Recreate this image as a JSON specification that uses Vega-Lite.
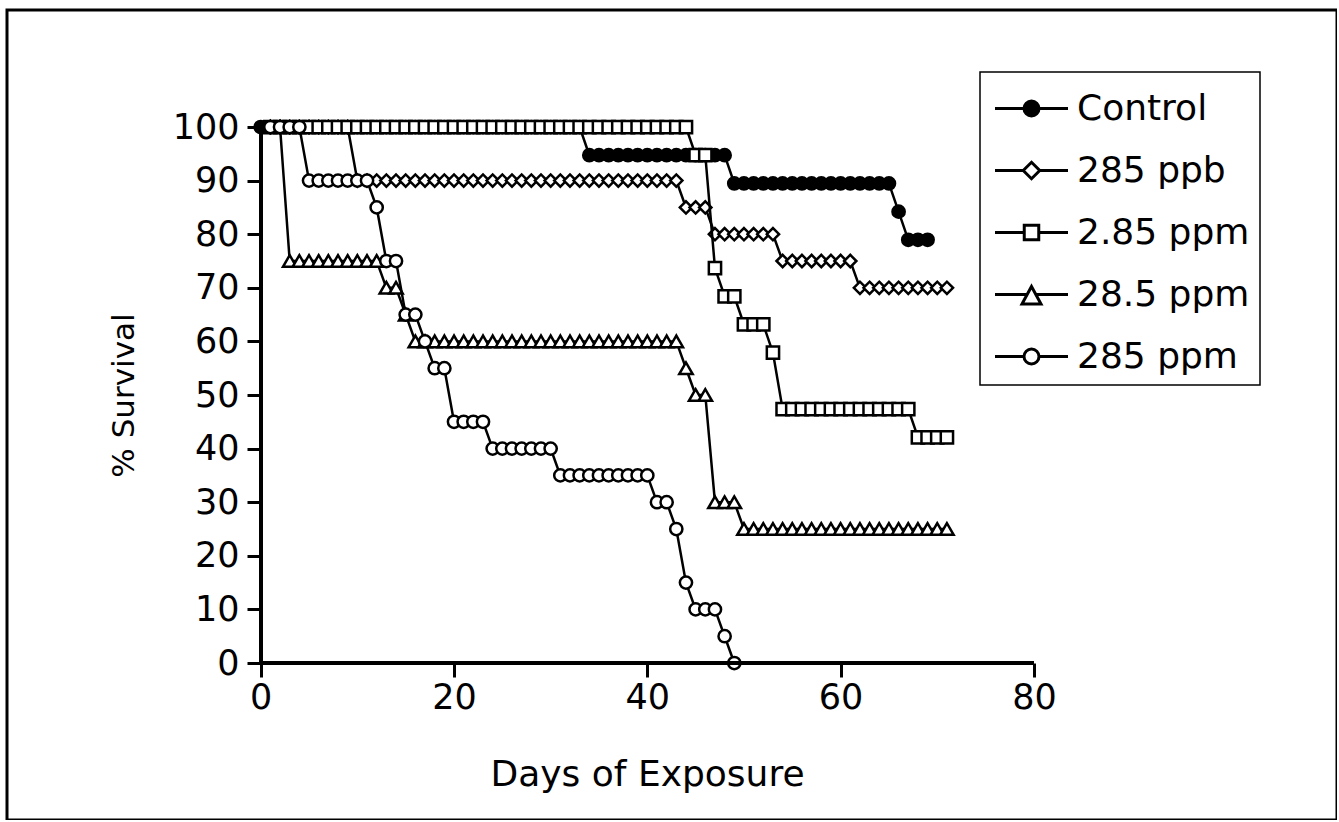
{
"$schema": "https://vega.github.io/schema/vega-lite/v6.json",
"width": 1330, "height": 810,
"padding": {"left": 7, "top": 10, "right": 0, "bottom": 0},
"background": "white",
"data": {"values": [
{"series":"Control","day":0,"survival":100},{"series":"Control","day":1,"survival":100},{"series":"Control","day":2,"survival":100},{"series":"Control","day":3,"survival":100},{"series":"Control","day":4,"survival":100},{"series":"Control","day":5,"survival":100},{"series":"Control","day":6,"survival":100},{"series":"Control","day":7,"survival":100},{"series":"Control","day":8,"survival":100},{"series":"Control","day":9,"survival":100},{"series":"Control","day":10,"survival":100},{"series":"Control","day":11,"survival":100},{"series":"Control","day":12,"survival":100},{"series":"Control","day":13,"survival":100},{"series":"Control","day":14,"survival":100},{"series":"Control","day":15,"survival":100},{"series":"Control","day":16,"survival":100},{"series":"Control","day":17,"survival":100},{"series":"Control","day":18,"survival":100},{"series":"Control","day":19,"survival":100},{"series":"Control","day":20,"survival":100},{"series":"Control","day":21,"survival":100},{"series":"Control","day":22,"survival":100},{"series":"Control","day":23,"survival":100},{"series":"Control","day":24,"survival":100},{"series":"Control","day":25,"survival":100},{"series":"Control","day":26,"survival":100},{"series":"Control","day":27,"survival":100},{"series":"Control","day":28,"survival":100},{"series":"Control","day":29,"survival":100},{"series":"Control","day":30,"survival":100},{"series":"Control","day":31,"survival":100},{"series":"Control","day":32,"survival":100},{"series":"Control","day":33,"survival":100},
{"series":"Control","day":34,"survival":94.74},{"series":"Control","day":35,"survival":94.74},{"series":"Control","day":36,"survival":94.74},{"series":"Control","day":37,"survival":94.74},{"series":"Control","day":38,"survival":94.74},{"series":"Control","day":39,"survival":94.74},{"series":"Control","day":40,"survival":94.74},{"series":"Control","day":41,"survival":94.74},{"series":"Control","day":42,"survival":94.74},{"series":"Control","day":43,"survival":94.74},{"series":"Control","day":44,"survival":94.74},{"series":"Control","day":45,"survival":94.74},{"series":"Control","day":46,"survival":94.74},{"series":"Control","day":47,"survival":94.74},{"series":"Control","day":48,"survival":94.74},
{"series":"Control","day":49,"survival":89.47},{"series":"Control","day":50,"survival":89.47},{"series":"Control","day":51,"survival":89.47},{"series":"Control","day":52,"survival":89.47},{"series":"Control","day":53,"survival":89.47},{"series":"Control","day":54,"survival":89.47},{"series":"Control","day":55,"survival":89.47},{"series":"Control","day":56,"survival":89.47},{"series":"Control","day":57,"survival":89.47},{"series":"Control","day":58,"survival":89.47},{"series":"Control","day":59,"survival":89.47},{"series":"Control","day":60,"survival":89.47},{"series":"Control","day":61,"survival":89.47},{"series":"Control","day":62,"survival":89.47},{"series":"Control","day":63,"survival":89.47},{"series":"Control","day":64,"survival":89.47},{"series":"Control","day":65,"survival":89.47},
{"series":"Control","day":66,"survival":84.21},{"series":"Control","day":67,"survival":78.95},{"series":"Control","day":68,"survival":78.95},{"series":"Control","day":69,"survival":78.95},
{"series":"285 ppb","day":1,"survival":100},{"series":"285 ppb","day":2,"survival":100},{"series":"285 ppb","day":3,"survival":100},{"series":"285 ppb","day":4,"survival":100},{"series":"285 ppb","day":5,"survival":100},{"series":"285 ppb","day":6,"survival":100},{"series":"285 ppb","day":7,"survival":100},{"series":"285 ppb","day":8,"survival":100},{"series":"285 ppb","day":9,"survival":100},
{"series":"285 ppb","day":10,"survival":90},{"series":"285 ppb","day":11,"survival":90},{"series":"285 ppb","day":12,"survival":90},{"series":"285 ppb","day":13,"survival":90},{"series":"285 ppb","day":14,"survival":90},{"series":"285 ppb","day":15,"survival":90},{"series":"285 ppb","day":16,"survival":90},{"series":"285 ppb","day":17,"survival":90},{"series":"285 ppb","day":18,"survival":90},{"series":"285 ppb","day":19,"survival":90},{"series":"285 ppb","day":20,"survival":90},{"series":"285 ppb","day":21,"survival":90},{"series":"285 ppb","day":22,"survival":90},{"series":"285 ppb","day":23,"survival":90},{"series":"285 ppb","day":24,"survival":90},{"series":"285 ppb","day":25,"survival":90},{"series":"285 ppb","day":26,"survival":90},{"series":"285 ppb","day":27,"survival":90},{"series":"285 ppb","day":28,"survival":90},{"series":"285 ppb","day":29,"survival":90},{"series":"285 ppb","day":30,"survival":90},{"series":"285 ppb","day":31,"survival":90},{"series":"285 ppb","day":32,"survival":90},{"series":"285 ppb","day":33,"survival":90},{"series":"285 ppb","day":34,"survival":90},{"series":"285 ppb","day":35,"survival":90},{"series":"285 ppb","day":36,"survival":90},{"series":"285 ppb","day":37,"survival":90},{"series":"285 ppb","day":38,"survival":90},{"series":"285 ppb","day":39,"survival":90},{"series":"285 ppb","day":40,"survival":90},{"series":"285 ppb","day":41,"survival":90},{"series":"285 ppb","day":42,"survival":90},{"series":"285 ppb","day":43,"survival":90},
{"series":"285 ppb","day":44,"survival":85},{"series":"285 ppb","day":45,"survival":85},{"series":"285 ppb","day":46,"survival":85},
{"series":"285 ppb","day":47,"survival":80},{"series":"285 ppb","day":48,"survival":80},{"series":"285 ppb","day":49,"survival":80},{"series":"285 ppb","day":50,"survival":80},{"series":"285 ppb","day":51,"survival":80},{"series":"285 ppb","day":52,"survival":80},{"series":"285 ppb","day":53,"survival":80},
{"series":"285 ppb","day":54,"survival":75},{"series":"285 ppb","day":55,"survival":75},{"series":"285 ppb","day":56,"survival":75},{"series":"285 ppb","day":57,"survival":75},{"series":"285 ppb","day":58,"survival":75},{"series":"285 ppb","day":59,"survival":75},{"series":"285 ppb","day":60,"survival":75},{"series":"285 ppb","day":61,"survival":75},
{"series":"285 ppb","day":62,"survival":70},{"series":"285 ppb","day":63,"survival":70},{"series":"285 ppb","day":64,"survival":70},{"series":"285 ppb","day":65,"survival":70},{"series":"285 ppb","day":66,"survival":70},{"series":"285 ppb","day":67,"survival":70},{"series":"285 ppb","day":68,"survival":70},{"series":"285 ppb","day":69,"survival":70},{"series":"285 ppb","day":70,"survival":70},{"series":"285 ppb","day":71,"survival":70},
{"series":"2.85 ppm","day":1,"survival":100},{"series":"2.85 ppm","day":2,"survival":100},{"series":"2.85 ppm","day":3,"survival":100},{"series":"2.85 ppm","day":4,"survival":100},{"series":"2.85 ppm","day":5,"survival":100},{"series":"2.85 ppm","day":6,"survival":100},{"series":"2.85 ppm","day":7,"survival":100},{"series":"2.85 ppm","day":8,"survival":100},{"series":"2.85 ppm","day":9,"survival":100},{"series":"2.85 ppm","day":10,"survival":100},{"series":"2.85 ppm","day":11,"survival":100},{"series":"2.85 ppm","day":12,"survival":100},{"series":"2.85 ppm","day":13,"survival":100},{"series":"2.85 ppm","day":14,"survival":100},{"series":"2.85 ppm","day":15,"survival":100},{"series":"2.85 ppm","day":16,"survival":100},{"series":"2.85 ppm","day":17,"survival":100},{"series":"2.85 ppm","day":18,"survival":100},{"series":"2.85 ppm","day":19,"survival":100},{"series":"2.85 ppm","day":20,"survival":100},{"series":"2.85 ppm","day":21,"survival":100},{"series":"2.85 ppm","day":22,"survival":100},{"series":"2.85 ppm","day":23,"survival":100},{"series":"2.85 ppm","day":24,"survival":100},{"series":"2.85 ppm","day":25,"survival":100},{"series":"2.85 ppm","day":26,"survival":100},{"series":"2.85 ppm","day":27,"survival":100},{"series":"2.85 ppm","day":28,"survival":100},{"series":"2.85 ppm","day":29,"survival":100},{"series":"2.85 ppm","day":30,"survival":100},{"series":"2.85 ppm","day":31,"survival":100},{"series":"2.85 ppm","day":32,"survival":100},{"series":"2.85 ppm","day":33,"survival":100},{"series":"2.85 ppm","day":34,"survival":100},{"series":"2.85 ppm","day":35,"survival":100},{"series":"2.85 ppm","day":36,"survival":100},{"series":"2.85 ppm","day":37,"survival":100},{"series":"2.85 ppm","day":38,"survival":100},{"series":"2.85 ppm","day":39,"survival":100},{"series":"2.85 ppm","day":40,"survival":100},{"series":"2.85 ppm","day":41,"survival":100},{"series":"2.85 ppm","day":42,"survival":100},{"series":"2.85 ppm","day":43,"survival":100},{"series":"2.85 ppm","day":44,"survival":100},
{"series":"2.85 ppm","day":45,"survival":94.74},{"series":"2.85 ppm","day":46,"survival":94.74},{"series":"2.85 ppm","day":47,"survival":73.68},{"series":"2.85 ppm","day":48,"survival":68.42},{"series":"2.85 ppm","day":49,"survival":68.42},{"series":"2.85 ppm","day":50,"survival":63.16},{"series":"2.85 ppm","day":51,"survival":63.16},{"series":"2.85 ppm","day":52,"survival":63.16},{"series":"2.85 ppm","day":53,"survival":57.89},
{"series":"2.85 ppm","day":54,"survival":47.37},{"series":"2.85 ppm","day":55,"survival":47.37},{"series":"2.85 ppm","day":56,"survival":47.37},{"series":"2.85 ppm","day":57,"survival":47.37},{"series":"2.85 ppm","day":58,"survival":47.37},{"series":"2.85 ppm","day":59,"survival":47.37},{"series":"2.85 ppm","day":60,"survival":47.37},{"series":"2.85 ppm","day":61,"survival":47.37},{"series":"2.85 ppm","day":62,"survival":47.37},{"series":"2.85 ppm","day":63,"survival":47.37},{"series":"2.85 ppm","day":64,"survival":47.37},{"series":"2.85 ppm","day":65,"survival":47.37},{"series":"2.85 ppm","day":66,"survival":47.37},{"series":"2.85 ppm","day":67,"survival":47.37},
{"series":"2.85 ppm","day":68,"survival":42.11},{"series":"2.85 ppm","day":69,"survival":42.11},{"series":"2.85 ppm","day":70,"survival":42.11},{"series":"2.85 ppm","day":71,"survival":42.11},
{"series":"28.5 ppm","day":1,"survival":100},{"series":"28.5 ppm","day":2,"survival":100},
{"series":"28.5 ppm","day":3,"survival":75},{"series":"28.5 ppm","day":4,"survival":75},{"series":"28.5 ppm","day":5,"survival":75},{"series":"28.5 ppm","day":6,"survival":75},{"series":"28.5 ppm","day":7,"survival":75},{"series":"28.5 ppm","day":8,"survival":75},{"series":"28.5 ppm","day":9,"survival":75},{"series":"28.5 ppm","day":10,"survival":75},{"series":"28.5 ppm","day":11,"survival":75},{"series":"28.5 ppm","day":12,"survival":75},
{"series":"28.5 ppm","day":13,"survival":70},{"series":"28.5 ppm","day":14,"survival":70},{"series":"28.5 ppm","day":15,"survival":65},
{"series":"28.5 ppm","day":16,"survival":60},{"series":"28.5 ppm","day":17,"survival":60},{"series":"28.5 ppm","day":18,"survival":60},{"series":"28.5 ppm","day":19,"survival":60},{"series":"28.5 ppm","day":20,"survival":60},{"series":"28.5 ppm","day":21,"survival":60},{"series":"28.5 ppm","day":22,"survival":60},{"series":"28.5 ppm","day":23,"survival":60},{"series":"28.5 ppm","day":24,"survival":60},{"series":"28.5 ppm","day":25,"survival":60},{"series":"28.5 ppm","day":26,"survival":60},{"series":"28.5 ppm","day":27,"survival":60},{"series":"28.5 ppm","day":28,"survival":60},{"series":"28.5 ppm","day":29,"survival":60},{"series":"28.5 ppm","day":30,"survival":60},{"series":"28.5 ppm","day":31,"survival":60},{"series":"28.5 ppm","day":32,"survival":60},{"series":"28.5 ppm","day":33,"survival":60},{"series":"28.5 ppm","day":34,"survival":60},{"series":"28.5 ppm","day":35,"survival":60},{"series":"28.5 ppm","day":36,"survival":60},{"series":"28.5 ppm","day":37,"survival":60},{"series":"28.5 ppm","day":38,"survival":60},{"series":"28.5 ppm","day":39,"survival":60},{"series":"28.5 ppm","day":40,"survival":60},{"series":"28.5 ppm","day":41,"survival":60},{"series":"28.5 ppm","day":42,"survival":60},{"series":"28.5 ppm","day":43,"survival":60},
{"series":"28.5 ppm","day":44,"survival":55},{"series":"28.5 ppm","day":45,"survival":50},{"series":"28.5 ppm","day":46,"survival":50},{"series":"28.5 ppm","day":47,"survival":30},{"series":"28.5 ppm","day":48,"survival":30},{"series":"28.5 ppm","day":49,"survival":30},
{"series":"28.5 ppm","day":50,"survival":25},{"series":"28.5 ppm","day":51,"survival":25},{"series":"28.5 ppm","day":52,"survival":25},{"series":"28.5 ppm","day":53,"survival":25},{"series":"28.5 ppm","day":54,"survival":25},{"series":"28.5 ppm","day":55,"survival":25},{"series":"28.5 ppm","day":56,"survival":25},{"series":"28.5 ppm","day":57,"survival":25},{"series":"28.5 ppm","day":58,"survival":25},{"series":"28.5 ppm","day":59,"survival":25},{"series":"28.5 ppm","day":60,"survival":25},{"series":"28.5 ppm","day":61,"survival":25},{"series":"28.5 ppm","day":62,"survival":25},{"series":"28.5 ppm","day":63,"survival":25},{"series":"28.5 ppm","day":64,"survival":25},{"series":"28.5 ppm","day":65,"survival":25},{"series":"28.5 ppm","day":66,"survival":25},{"series":"28.5 ppm","day":67,"survival":25},{"series":"28.5 ppm","day":68,"survival":25},{"series":"28.5 ppm","day":69,"survival":25},{"series":"28.5 ppm","day":70,"survival":25},{"series":"28.5 ppm","day":71,"survival":25},
{"series":"285 ppm","day":1,"survival":100},{"series":"285 ppm","day":2,"survival":100},{"series":"285 ppm","day":3,"survival":100},{"series":"285 ppm","day":4,"survival":100},
{"series":"285 ppm","day":5,"survival":90},{"series":"285 ppm","day":6,"survival":90},{"series":"285 ppm","day":7,"survival":90},{"series":"285 ppm","day":8,"survival":90},{"series":"285 ppm","day":9,"survival":90},{"series":"285 ppm","day":10,"survival":90},{"series":"285 ppm","day":11,"survival":90},
{"series":"285 ppm","day":12,"survival":85},{"series":"285 ppm","day":13,"survival":75},{"series":"285 ppm","day":14,"survival":75},{"series":"285 ppm","day":15,"survival":65},{"series":"285 ppm","day":16,"survival":65},{"series":"285 ppm","day":17,"survival":60},{"series":"285 ppm","day":18,"survival":55},{"series":"285 ppm","day":19,"survival":55},
{"series":"285 ppm","day":20,"survival":45},{"series":"285 ppm","day":21,"survival":45},{"series":"285 ppm","day":22,"survival":45},{"series":"285 ppm","day":23,"survival":45},
{"series":"285 ppm","day":24,"survival":40},{"series":"285 ppm","day":25,"survival":40},{"series":"285 ppm","day":26,"survival":40},{"series":"285 ppm","day":27,"survival":40},{"series":"285 ppm","day":28,"survival":40},{"series":"285 ppm","day":29,"survival":40},{"series":"285 ppm","day":30,"survival":40},
{"series":"285 ppm","day":31,"survival":35},{"series":"285 ppm","day":32,"survival":35},{"series":"285 ppm","day":33,"survival":35},{"series":"285 ppm","day":34,"survival":35},{"series":"285 ppm","day":35,"survival":35},{"series":"285 ppm","day":36,"survival":35},{"series":"285 ppm","day":37,"survival":35},{"series":"285 ppm","day":38,"survival":35},{"series":"285 ppm","day":39,"survival":35},{"series":"285 ppm","day":40,"survival":35},
{"series":"285 ppm","day":41,"survival":30},{"series":"285 ppm","day":42,"survival":30},{"series":"285 ppm","day":43,"survival":25},{"series":"285 ppm","day":44,"survival":15},{"series":"285 ppm","day":45,"survival":10},{"series":"285 ppm","day":46,"survival":10},{"series":"285 ppm","day":47,"survival":10},{"series":"285 ppm","day":48,"survival":5},{"series":"285 ppm","day":49,"survival":0}
]},
"layer": [
{"transform": [{"filter": "datum.series === 'Control'"}],
 "mark": {"type": "line", "stroke": "black", "strokeWidth": 2.5},
 "encoding": {
  "x": {"field": "day", "type": "quantitative", "scale": {"domain": [-26.25, 111.36], "nice": false, "zero": false},
        "axis": {"title": "Days of Exposure", "values": [0, 20, 40, 60, 80], "offset": -157, "labelPadding": 3, "titleX": 640, "titleY": 122, "titleBaseline": "alphabetic", "titleFontSize": 36}},
  "y": {"field": "survival", "type": "quantitative", "scale": {"domain": [-29.29, 121.83], "nice": false, "zero": false},
        "axis": {"title": "% Survival", "values": [0, 10, 20, 30, 40, 50, 60, 70, 80, 90, 100], "offset": -254, "labelPadding": 8, "titleX": -128, "titleY": 385, "titleAngle": -90, "titleBaseline": "alphabetic", "titleAlign": "center", "titleFontSize": 31}}
 }},
{"transform": [{"filter": "datum.series === 'Control'"}],
 "mark": {"type": "point", "shape": "circle", "filled": true, "fill": "black", "stroke": "black", "strokeWidth": 2.5, "opacity": 1, "size": 150},
 "encoding": {"x": {"field": "day", "type": "quantitative"}, "y": {"field": "survival", "type": "quantitative"}}},
{"transform": [{"filter": "datum.series === '285 ppb'"}],
 "mark": {"type": "line", "stroke": "black", "strokeWidth": 2.5},
 "encoding": {"x": {"field": "day", "type": "quantitative"}, "y": {"field": "survival", "type": "quantitative"}}},
{"transform": [{"filter": "datum.series === '285 ppb'"}],
 "mark": {"type": "point", "shape": "diamond", "filled": true, "fill": "white", "stroke": "black", "strokeWidth": 2.5, "opacity": 1, "size": 150},
 "encoding": {"x": {"field": "day", "type": "quantitative"}, "y": {"field": "survival", "type": "quantitative"}}},
{"transform": [{"filter": "datum.series === '2.85 ppm'"}],
 "mark": {"type": "line", "stroke": "black", "strokeWidth": 2.5},
 "encoding": {"x": {"field": "day", "type": "quantitative"}, "y": {"field": "survival", "type": "quantitative"}}},
{"transform": [{"filter": "datum.series === '2.85 ppm'"}],
 "mark": {"type": "point", "shape": "square", "filled": true, "fill": "white", "stroke": "black", "strokeWidth": 2.5, "opacity": 1, "size": 150},
 "encoding": {"x": {"field": "day", "type": "quantitative"}, "y": {"field": "survival", "type": "quantitative"}}},
{"transform": [{"filter": "datum.series === '28.5 ppm'"}],
 "mark": {"type": "line", "stroke": "black", "strokeWidth": 2.5},
 "encoding": {"x": {"field": "day", "type": "quantitative"}, "y": {"field": "survival", "type": "quantitative"}}},
{"transform": [{"filter": "datum.series === '28.5 ppm'"}],
 "mark": {"type": "point", "shape": "triangle-up", "filled": true, "fill": "white", "stroke": "black", "strokeWidth": 2.5, "opacity": 1, "size": 180},
 "encoding": {"x": {"field": "day", "type": "quantitative"}, "y": {"field": "survival", "type": "quantitative"}}},
{"transform": [{"filter": "datum.series === '285 ppm'"}],
 "mark": {"type": "line", "stroke": "black", "strokeWidth": 2.5},
 "encoding": {"x": {"field": "day", "type": "quantitative"}, "y": {"field": "survival", "type": "quantitative"}}},
{"transform": [{"filter": "datum.series === '285 ppm'"}],
 "mark": {"type": "point", "shape": "circle", "filled": true, "fill": "white", "stroke": "black", "strokeWidth": 2.5, "opacity": 1, "size": 150},
 "encoding": {"x": {"field": "day", "type": "quantitative"}, "y": {"field": "survival", "type": "quantitative"}}},
{"transform": [{"filter": "datum.day < 0"}],
 "mark": {"type": "point", "filled": true, "stroke": "black", "strokeWidth": 2.5, "opacity": 1},
 "encoding": {
  "x": {"field": "day", "type": "quantitative"},
  "y": {"field": "survival", "type": "quantitative"},
  "shape": {"field": "series", "type": "nominal",
    "scale": {"domain": ["Control", "285 ppb", "2.85 ppm", "28.5 ppm", "285 ppm"],
              "range": ["M-1.46,0H-0.3M0.3,0H1.46M0.3,0A0.3,0.3,0,1,1,-0.3,0A0.3,0.3,0,1,1,0.3,0Z",
                        "M-1.46,0H-0.33M0.33,0H1.46M0,-0.33L0.33,0L0,0.33L-0.33,0Z",
                        "M-1.46,0H-0.29M0.29,0H1.46M-0.29,-0.29H0.29V0.29H-0.29Z",
                        "M-1.46,0H-0.17M0.17,0H1.46M0,-0.32L0.38,0.38H-0.38Z",
                        "M-1.46,0H-0.3M0.3,0H1.46M0.3,0A0.3,0.3,0,1,1,-0.3,0A0.3,0.3,0,1,1,0.3,0Z"]},
    "legend": {"title": null, "orient": "none", "legendX": 973, "legendY": 62, "padding": 10, "strokeColor": "black", "fillColor": "white",
      "symbolSize": 2500, "symbolOffset": 15, "symbolOpacity": 1, "symbolStrokeWidth": 3,
      "labelOffset": 19, "labelFont": "DejaVu Sans", "labelFontSize": 36, "labelColor": "black", "rowPadding": 17, "labelLimit": 400,
      "encode": {"symbols": {"stroke": {"value": "black"}, "strokeWidth": {"value": 3}, "strokeOpacity": {"value": 1}}}}},
  "fill": {"field": "series", "type": "nominal",
    "scale": {"domain": ["Control", "285 ppb", "2.85 ppm", "28.5 ppm", "285 ppm"], "range": ["black", "white", "white", "white", "white"]},
    "legend": {"title": null, "orient": "none", "legendX": 973, "legendY": 62, "padding": 10, "strokeColor": "black", "fillColor": "white",
      "symbolSize": 2500, "symbolOffset": 15, "symbolOpacity": 1, "symbolStrokeWidth": 3,
      "labelOffset": 19, "labelFont": "DejaVu Sans", "labelFontSize": 36, "labelColor": "black", "rowPadding": 17, "labelLimit": 400,
      "encode": {"symbols": {"stroke": {"value": "black"}, "strokeWidth": {"value": 3}, "strokeOpacity": {"value": 1}}}}}
 }},
{"mark": {"type": "rule", "stroke": "black", "strokeWidth": 3},
 "encoding": {"x": {"datum": 0, "type": "quantitative"}, "x2": {"datum": 80}, "y": {"datum": 0, "type": "quantitative"}}},
{"mark": {"type": "rule", "stroke": "black", "strokeWidth": 3},
 "encoding": {"x": {"datum": 0, "type": "quantitative"}, "y": {"datum": 0, "type": "quantitative"}, "y2": {"datum": 100}}}
],
"config": {
  "font": "DejaVu Sans",
  "view": {"stroke": "black", "strokeWidth": 3},
  "axis": {"domain": false, "grid": false, "ticks": true, "tickColor": "black", "tickWidth": 3, "tickSize": 14,
           "labelFont": "DejaVu Sans", "labelFontSize": 35, "labelColor": "black", "titleColor": "black", "titleFont": "DejaVu Sans", "titleFontWeight": "normal"},
  "legend": {"strokeWidth": 1.5}
}
}
